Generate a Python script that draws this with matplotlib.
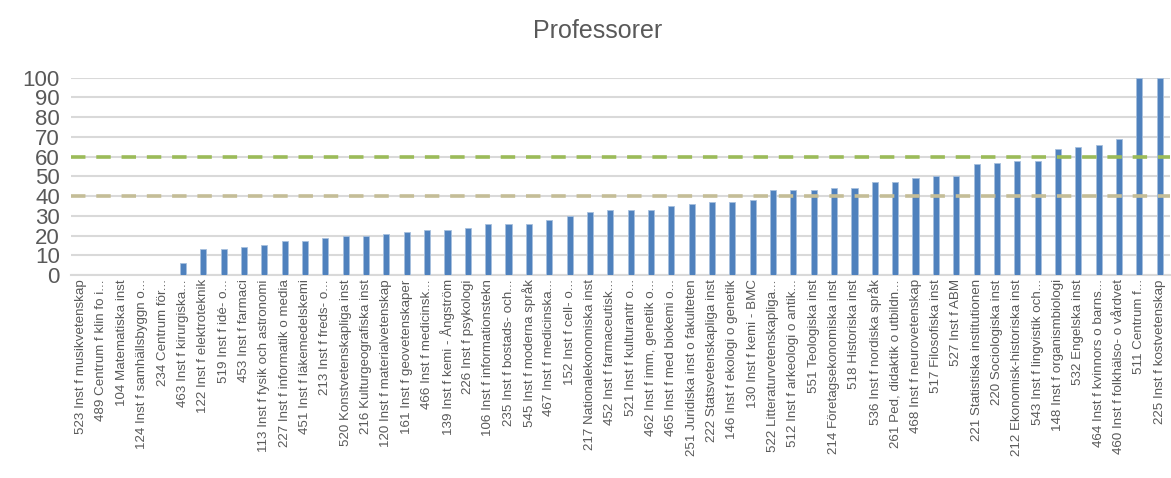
import matplotlib
matplotlib.use("Agg")
import matplotlib.pyplot as plt
import numpy as np

# --- Data ---
labels = [
    "523 Inst f musikvetenskap", "489 Centrum f klin fo i...", "104 Matematiska inst",
    "124 Inst f samhällsbyggn o...", "234 Centrum för...", "463 Inst f kirurgiska...",
    "122 Inst f elektroteknik", "519 Inst f idé- o...", "453 Inst f farmaci",
    "113 Inst f fysik och astronomi", "227 Inst f informatik o media", "451 Inst f läkemedelskemi",
    "213 Inst f freds- o...", "520 Konstvetenskapliga inst", "216 Kulturgeografiska inst",
    "120 Inst f materialvetenskap", "161 Inst f geovetenskaper", "466 Inst f medicinsk...",
    "139 Inst f kemi - Ångström", "226 Inst f psykologi", "106 Inst f informationstekn",
    "235 Inst f bostads- och...", "545 Inst f moderna språk", "467 Inst f medicinska...",
    "152 Inst f cell- o...", "217 Nationalekonomiska inst", "452 Inst f farmaceutisk...",
    "521 Inst f kulturantr o...", "462 Inst f imm, genetik o...", "465 Inst f med biokemi o...",
    "251 Juridiska inst o fakulteten", "222 Statsvetenskapliga inst", "146 Inst f ekologi o genetik",
    "130 Inst f kemi - BMC", "522 Litteraturvetenskapliga...", "512 Inst f arkeologi o antik...",
    "551 Teologiska inst", "214 Företagsekonomiska inst", "518 Historiska inst",
    "536 Inst f nordiska språk", "261 Ped, didaktik o utbildn...", "468 Inst f neurovetenskap",
    "517 Filosofiska inst", "527 Inst f ABM", "221 Statistiska institutionen",
    "220 Sociologiska inst", "212 Ekonomisk-historiska inst", "543 Inst f lingvistik och...",
    "148 Inst f organismbiologi", "532 Engelska inst", "464 Inst f kvinnors o barns...",
    "460 Inst f folkhälso- o vårdvet", "511 Centrum f...", "225 Inst f kostvetenskap",
]
values = [
    0, 0, 0, 0, 0, 6, 13, 13, 14, 15, 17, 17, 19, 20, 20, 21, 22, 23, 23, 24,
    26, 26, 26, 28, 30, 32, 33, 33, 33, 35, 36, 37, 37, 38, 43, 43, 43, 44, 44,
    47, 47, 49, 50, 50, 56, 57, 58, 58, 64, 65, 66, 69, 100, 100,
]
upper_ref = 60
lower_ref = 40
yticks = list(range(0, 101, 10))

# --- Plot ---
plt.rcParams["font.family"] = ["Liberation Sans", "DejaVu Sans"]
fig = plt.figure(figsize=(11.71, 4.78), dpi=100)
ax = fig.add_axes([0.0606, 0.4247, 0.9385, 0.4128])

x = np.arange(len(values))
ax.bar(x, values, width=0.3, color="#4F81BD", edgecolor="#A7C0DE", linewidth=0.6, zorder=3)

ax.axhline(upper_ref, color="#9BBB59", linewidth=2.6, linestyle=(0, (4, 3)), zorder=4)
ax.axhline(lower_ref, color="#C4BD97", linewidth=2.6, linestyle=(0, (4, 3)), zorder=4)

ax.set_xlim(-0.5, len(values) - 0.5)
ax.set_ylim(0, 100)
ax.set_yticks(yticks)
ax.set_yticklabels([str(t) for t in yticks], fontsize=16, color="#595959")
ax.set_xticks(x)
ax.set_xticklabels(labels, rotation=90, fontsize=9.6, color="#595959")
ax.tick_params(axis="both", length=0, pad=3)
ax.tick_params(axis="y", pad=8)

ax.grid(axis="y", color="#D9D9D9", linewidth=1.5, zorder=0)
for s in ["top", "right", "left"]:
    ax.spines[s].set_visible(False)
ax.spines["bottom"].set_color("#D9D9D9")
ax.spines["bottom"].set_linewidth(1.5)

fig.text(0.51, 0.935, "Professorer", ha="center", va="center", fontsize=18, color="#595959")

fig.savefig("out.png", dpi=100, facecolor="white")
